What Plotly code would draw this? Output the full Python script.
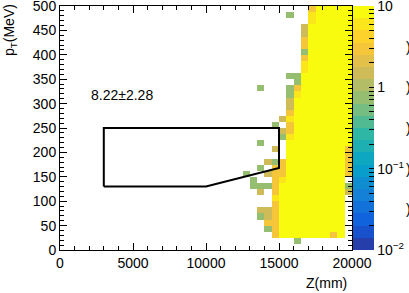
import math
import plotly.graph_objects as go

# ---------------- data ----------------
z_edges_step = 500.0          # mm per bin
pt_edges_step = 12.5          # MeV per bin
n_z_bins = 40
n_pt_bins = 40

# level codes
level_values = {".": None, "g": 0.8, "t": 1.5, "o": 3.0, "l": 6.0, "Y": 20.0}

# rows from top (pT bin 39) to bottom (pT bin 0); only Z bins 25..39 are non-empty
rows_top_down = [
    ".........oYYYYY",  # 39
    "......g..lYYYYY",  # 38
    ".........lYYYYY",  # 37
    "........tYYYYYY",  # 36
    "........tYYYYYY",  # 35
    "........oYYYYYY",  # 34
    "........oYYYYYY",  # 33
    "........gYYYYYY",  # 32
    "........oYYYYYY",  # 31
    "........lYYYYYY",  # 30
    "........lYYYYYY",  # 29
    "......ggYYYYYYY",  # 28
    ".......gYYYYYYY",  # 27
    "..g...goYYYYYYY",  # 26
    "......glYYYYYYY",  # 25
    "......tYYYYYYYY",  # 24
    "......tYYYYYYYY",  # 23
    "......oYYYYYYYY",  # 22
    ".....tlYYYYYYYY",  # 21
    "....g.oYYYYYYYY",  # 20
    ".....toYYYYYYYY",  # 19
    ".....glYYYYYYYY",  # 18
    "..g...YYYYYYYYY",  # 17
    "....t.YYYYYYYYo",  # 16
    "......YYYYYYYYo",  # 15
    "...tgoYYYYYYYYo",  # 14
    "..g.ooYYYYYYYYo",  # 13
    "g..tooYYYYYYYYo",  # 12
    ".g..olYYYYYYYY.",  # 11
    ".gggoYYYYYYYYYg",  # 10
    "..t.oYYYYYYYYYt",  # 9
    "....lYYYYYYYYY.",  # 8
    "....oYYYYYYYYY.",  # 7
    "..ttoYYYYYYYYY.",  # 6
    "..gtoYYYYYYYYY.",  # 5
    "...ooYYYYYYYYY.",  # 4
    "...goYYYYYYYYY.",  # 3
    "....oYYYYYYYoY.",  # 2
    ".......g.......",  # 1
    "...............",  # 0
]
first_filled_z_bin = 25

box_z = [3000, 3000, 15000, 15000, 10000, 3000]
box_pt = [130, 250, 250, 168, 130, 130]
box_label = "8.22\u00b12.28"
box_label_z = 2000
box_label_pt = 297

x_ticks = [0, 5000, 10000, 15000, 20000]
x_tick_text = ["0", "5000", "10000", "15000", "20000"]
y_ticks = list(range(0, 501, 50))
y_tick_text = [str(v) for v in y_ticks]
cbar_decades = [-2, -1, 0, 1]
cbar_decade_text = ["10<sup>\u22122</sup>", "10<sup>\u22121</sup>", "1", "10"]
stray_paren_logs = [0.5, 0.0, -0.5, -1.0, -1.5]

# ---------------- build ----------------
x_edges = [i * z_edges_step for i in range(n_z_bins + 1)]
y_edges = [j * pt_edges_step for j in range(n_pt_bins + 1)]

zmat = []
for row in reversed(rows_top_down):
    line = [None] * n_z_bins
    for k, ch in enumerate(row):
        v = level_values[ch]
        if v is not None:
            line[first_filled_z_bin + k] = math.log10(v)
    zmat.append(line)

# ROOT kBird palette, 20 contour bands
stops = [0.0, 0.125, 0.25, 0.375, 0.5, 0.625, 0.75, 0.875, 1.0]
red = [0.2082, 0.0592, 0.0780, 0.0232, 0.1802, 0.5301, 0.8186, 0.9956, 0.9764]
green = [0.1664, 0.3599, 0.5041, 0.6419, 0.7178, 0.7492, 0.7328, 0.7862, 0.9832]
blue = [0.5293, 0.8684, 0.8385, 0.7914, 0.6425, 0.4662, 0.3499, 0.1968, 0.0539]


def bird(f):
    for s in range(len(stops) - 1):
        if stops[s] <= f <= stops[s + 1]:
            t = (f - stops[s]) / (stops[s + 1] - stops[s])
            r = red[s] + t * (red[s + 1] - red[s])
            g = green[s] + t * (green[s + 1] - green[s])
            b = blue[s] + t * (blue[s + 1] - blue[s])
            return "rgb(%d,%d,%d)" % (round(r * 255), round(g * 255), round(b * 255))
    return "rgb(249,251,14)"


nb = 20
cscale = []
for i in range(nb):
    c = bird(min((i + 0.99) / nb, 1.0))
    cscale.append([i / nb, c])
    cscale.append([(i + 1) / nb, c])

minor_logs = []
for d in range(-2, 1):
    for m in range(2, 10):
        minor_logs.append(d + math.log10(m))
cb_vals = cbar_decades + minor_logs
cb_text = cbar_decade_text + [""] * len(minor_logs)

FONT = "Liberation Sans, Arial, Helvetica, sans-serif"
FS = 14

fig = go.Figure()
fig.add_trace(go.Heatmap(
    x=x_edges, y=y_edges, z=zmat,
    zmin=-2, zmax=1, colorscale=cscale, hoverongaps=False,
    colorbar=dict(
        x=1 + 1 / 292, xanchor="left", xpad=0, y=0.5, yanchor="middle", ypad=0,
        len=1, lenmode="fraction", thickness=21, thicknessmode="pixels",
        outlinewidth=0, tickvals=cb_vals, ticktext=cb_text,
        ticks="inside", ticklen=5, tickcolor="black", ticklabeloverflow="allow",
        tickfont=dict(family=FONT, size=FS, color="black"),
    ),
))
fig.add_trace(go.Scatter(
    x=box_z, y=box_pt, mode="lines",
    line=dict(color="black", width=2), hoverinfo="skip", showlegend=False,
))

axis_common = dict(
    ticks="inside", ticklen=7, tickcolor="black", tickwidth=1,
    showline=True, linecolor="black", linewidth=1, mirror="ticks",
    showgrid=False, zeroline=False, ticklabeloverflow="allow",
    tickfont=dict(family=FONT, size=FS, color="black"),
)
fig.update_xaxes(range=[0, 20000], tickvals=x_ticks, ticktext=x_tick_text,
                 minor=dict(dtick=1000, ticks="inside", ticklen=4, tickcolor="black", showgrid=False),
                 **axis_common)
fig.update_yaxes(range=[0, 500], tickvals=y_ticks, ticktext=y_tick_text,
                 minor=dict(dtick=10, ticks="inside", ticklen=4, tickcolor="black", showgrid=False),
                 **axis_common)

ann = [
    dict(x=box_label_z, y=box_label_pt, xref="x", yref="y", text=box_label,
         showarrow=False, xanchor="left", yanchor="bottom",
         font=dict(family=FONT, size=FS, color="black")),
    dict(x=(349 - 60) / 292, y=(250 - 283) / 244, xref="paper", yref="paper", text="Z(mm)",
         showarrow=False, xanchor="right", yanchor="middle",
         font=dict(family=FONT, size=FS, color="black")),
    dict(x=(10 - 60) / 292, y=(250 - 2) / 244, xref="paper", yref="paper",
         text="p<sub>T</sub>(MeV)", textangle=-90,
         showarrow=False, xanchor="center", yanchor="top",
         font=dict(family=FONT, size=FS, color="black")),
]
for lg in stray_paren_logs:
    ann.append(dict(x=(404 - 60) / 292, y=(lg + 2) / 3, xref="paper", yref="paper", text=")",
                    showarrow=False, xanchor="left", yanchor="middle",
                    font=dict(family=FONT, size=FS, color="black")))

fig.update_layout(
    width=409, height=293,
    margin=dict(l=60, r=57, t=6, b=43, pad=0, autoexpand=False),
    paper_bgcolor="white", plot_bgcolor="white",
    showlegend=False, annotations=ann,
)

fig.write_html("out.html", config={"displayModeBar": False},
               post_script="document.body.style.margin='0';document.body.style.overflow='hidden';")
